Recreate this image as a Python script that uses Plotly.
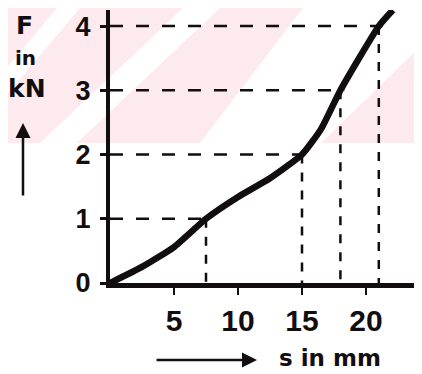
import plotly.graph_objects as go

# Curve data (s in mm, F in kN)
s_mm = [0, 2.5, 5, 7.5, 10, 12.5, 15, 16.5, 18, 21, 22.1]
F_kN = [0, 0.25, 0.56, 1.0, 1.34, 1.63, 2.0, 2.4, 3.0, 4.0, 4.25]

# Guide (dashed) reading points
guide_s = [7.5, 15, 18, 21]
guide_F = [1, 2, 3, 4]

x_ticks = [5, 10, 15, 20]
x_ticklabels = ["5", "10", "15", "20"]
y_ticks = [0, 1, 2, 3, 4]
y_ticklabels = ["0", "1", "2", "3", "4"]

OFF = 8  # page body margin
W, H = 422 - OFF, 374 - OFF
L, R, T, B = 110 - OFF, 0, 10 - OFF, 91
PW, PH = W - L - R, H - T - B


def px(x):
    return (x - OFF - L) / PW


def py(y):
    return (H - B - (y - OFF)) / PH


INK = "#120d0e"
PINK = "#fdeaee"
fig = go.Figure()

for gs, gf in zip(guide_s, guide_F):
    fig.add_trace(go.Scatter(x=[0, gs + 0.3], y=[gf, gf], mode="lines",
                             line=dict(color=INK, width=2.5, dash="13px,13px"),
                             hoverinfo="skip", showlegend=False))
    fig.add_trace(go.Scatter(x=[gs, gs], y=[gf, 0], mode="lines",
                             line=dict(color=INK, width=2.5, dash="9px,9px"),
                             hoverinfo="skip", showlegend=False))

fig.add_trace(go.Scatter(x=s_mm, y=F_kN, mode="lines",
                         line=dict(color=INK, width=6.5, shape="spline", smoothing=0.5),
                         showlegend=False))

# faint pink watermark band with white diagonal stripes (screen pixels)
shapes = [dict(type="rect", xref="paper", yref="paper", layer="below",
               x0=px(OFF), x1=px(422), y0=py(143), y1=py(OFF),
               fillcolor=PINK, line=dict(width=0))]
stripes = [  # (top-left x, top-right x, bottom-left x, bottom-right x)
    (57, 80, -57, -34),
    (183, 220, 40, 77),
    (303, 460, 200, 321),
]
for tl, tr, bl, br in stripes:
    path = (f"M {px(bl)},{py(143)} L {px(br)},{py(143)} "
            f"L {px(tr)},{py(OFF)} L {px(tl)},{py(OFF)} Z")
    shapes.append(dict(type="path", xref="paper", yref="paper", layer="below",
                       path=path, fillcolor="white", line=dict(width=0)))


def label(text, x, y, size):
    return dict(text=text, x=px(x), y=py(y), xref="paper", yref="paper",
                xanchor="center", yanchor="middle", showarrow=False,
                font=dict(family="DejaVu Sans", size=size, color=INK))


annotations = [
    label("<b>F</b>", 24, 25, 25),
    label("<b>in</b>", 25, 58, 20),
    label("<b>kN</b>", 27, 89, 25),
    dict(text="", x=px(23), y=py(123), xref="paper", yref="paper",
         showarrow=True, ax=0, ay=74, arrowhead=2, arrowsize=1.2,
         arrowwidth=2.5, arrowcolor=INK),
    dict(text="", x=px(257), y=py(360), xref="paper", yref="paper",
         showarrow=True, ax=-102, ay=0, arrowhead=2, arrowsize=1.2,
         arrowwidth=2.5, arrowcolor=INK),
    label("<b>s in mm</b>", 330, 358, 23),
]

fig.update_layout(
    width=W, height=H,
    margin=dict(l=L, r=R, t=T, b=B, pad=0),
    paper_bgcolor="white", plot_bgcolor="rgba(0,0,0,0)",
    shapes=shapes, annotations=annotations,
    xaxis=dict(range=[0, PW / 12.8], tickvals=x_ticks, ticktext=x_ticklabels,
               showgrid=False, zeroline=False, showline=True, linewidth=5,
               linecolor=INK, ticks="outside", ticklen=7, tickwidth=2,
               tickcolor=INK, ticklabelstandoff=0,
               tickfont=dict(family="Liberation Sans", size=30, color=INK,
                             weight="bold")),
    yaxis=dict(range=[0, 4.25], tickvals=y_ticks, ticktext=y_ticklabels,
               showgrid=False, zeroline=False, showline=True, linewidth=4,
               linecolor=INK, ticks="outside", ticklen=6, tickwidth=3,
               tickcolor=INK, ticklabelstandoff=4,
               tickfont=dict(family="Liberation Sans", size=27, color=INK,
                             weight="bold")),
)

fig.write_html("out.html")
